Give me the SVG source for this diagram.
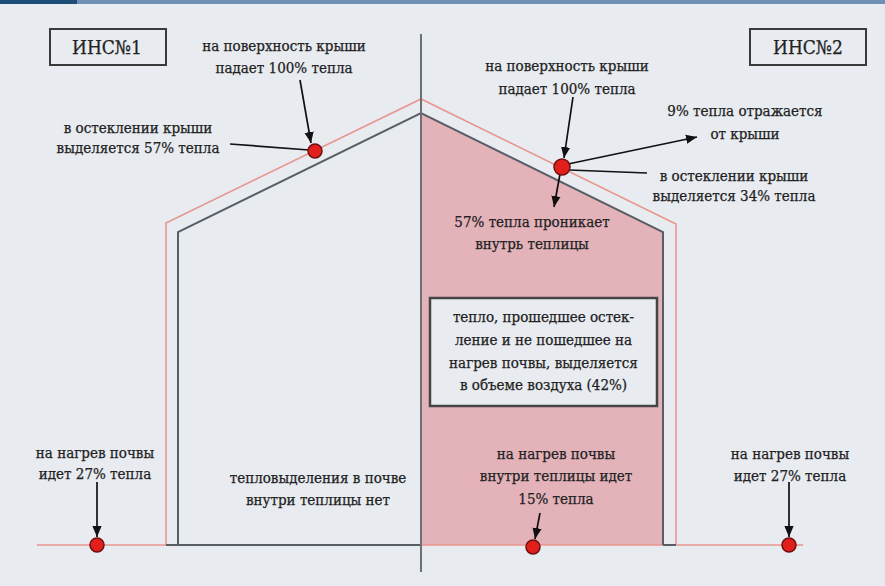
<svg xmlns="http://www.w3.org/2000/svg" width="885" height="586" viewBox="0 0 885 586">
<defs>
<marker id="ah" viewBox="0 0 10 10" refX="10" refY="5" markerWidth="11" markerHeight="11" markerUnits="userSpaceOnUse" orient="auto"><path d="M0,0.8 L10,5 L0,9.2 z" fill="#111"/></marker>
</defs>
<style>
.t{font-family:"DejaVu Serif Condensed","DejaVu Serif","Liberation Serif",serif;font-stretch:condensed;font-size:15px;fill:#222;stroke:#222;stroke-width:0.25;text-anchor:middle}
.lbl{font-size:19px}
.frame{fill:none;stroke:#3a3a3a;stroke-width:2}
.red{fill:none;stroke:#e8978d;stroke-width:1.6}
.dark{fill:none;stroke:#595d65;stroke-width:2}
.dot{fill:#e11f1b;stroke:#6e1010;stroke-width:1.5}
.c{fill:none;stroke:#111;stroke-width:1.7}
</style>
<rect x="0" y="0" width="885" height="586" fill="#e8ebf0"/>
<rect x="0" y="0" width="885" height="4" fill="#6f8fb4"/>
<rect x="0" y="0" width="77" height="4" fill="#1e4e78"/>

<g id="greenhouse">
<polygon points="421,113 663,232 663,545 421,545" fill="#e4b3ba"/>
<path class="red" d="M37,545 H166 M166,545 V223 L421,99 L676,224 V545 M421,545 H663 M676,545 H803"/>
<path class="dark" d="M166,545 H421 M663,545 H676 M178,545 V232 L421,113 L663,232 V545"/>
<path d="M421,34 V572" fill="none" stroke="#6b6f76" stroke-width="2"/>
</g>

<g id="ins1">
<rect class="frame" x="50" y="29" width="116" height="36" fill="none"/>
<text class="t lbl" x="107" y="54">ИНС№1</text>
</g>
<g id="ins2">
<rect class="frame" x="750" y="29" width="116" height="36" fill="none"/>
<text class="t lbl" x="808" y="54">ИНС№2</text>
</g>

<g id="label-left-top">
<text class="t" x="284" y="51">на поверхность крыши</text>
<text class="t" x="284" y="73">падает 100% тепла</text>
</g>
<g id="label-left-57">
<text class="t" x="138" y="133">в остеклении крыши</text>
<text class="t" x="138" y="153">выделяется 57% тепла</text>
</g>
<g id="label-right-top">
<text class="t" x="567" y="71">на поверхность крыши</text>
<text class="t" x="567" y="94">падает 100% тепла</text>
</g>
<g id="label-reflect">
<text class="t" x="745" y="116">9% тепла отражается</text>
<text class="t" x="745" y="139">от крыши</text>
</g>
<g id="label-right-34">
<text class="t" x="734" y="181">в остеклении крыши</text>
<text class="t" x="734" y="201">выделяется 34% тепла</text>
</g>
<g id="label-penetrate">
<text class="t" x="532" y="227">57% тепла проникает</text>
<text class="t" x="532" y="249">внутрь теплицы</text>
</g>
<g id="air-box">
<rect x="430" y="298" width="227" height="108" fill="#e8ebf0" stroke="#454545" stroke-width="2.5"/>
<text class="t" x="543.5" y="322">тепло, прошедшее остек-</text>
<text class="t" x="543.5" y="345">ление и не пошедшее на</text>
<text class="t" x="543.5" y="368">нагрев почвы, выделяется</text>
<text class="t" x="543.5" y="390">в объеме воздуха (42%)</text>
</g>
<g id="label-soil-left">
<text class="t" x="95" y="458">на нагрев почвы</text>
<text class="t" x="95" y="479">идет 27% тепла</text>
</g>
<g id="label-soil-none">
<text class="t" x="318" y="483">тепловыделения в почве</text>
<text class="t" x="318" y="505">внутри теплицы нет</text>
</g>
<g id="label-soil-mid">
<text class="t" x="556" y="459">на нагрев почвы</text>
<text class="t" x="556" y="481">внутри теплицы идет</text>
<text class="t" x="556" y="504">15% тепла</text>
</g>
<g id="label-soil-right">
<text class="t" x="790" y="459">на нагрев почвы</text>
<text class="t" x="790" y="481">идет 27% тепла</text>
</g>

<g id="connectors">
<line class="c" x1="300" y1="80" x2="311" y2="143" marker-end="url(#ah)"/>
<line class="c" x1="230" y1="144" x2="309" y2="150"/>
<line class="c" x1="573" y1="97" x2="564" y2="158" marker-end="url(#ah)"/>
<line class="c" x1="568" y1="164" x2="697" y2="137" marker-end="url(#ah)"/>
<line class="c" x1="569" y1="170" x2="647" y2="173"/>
<line class="c" x1="560" y1="174" x2="554" y2="207" marker-end="url(#ah)"/>
<line class="c" x1="97" y1="482" x2="97" y2="537" marker-end="url(#ah)"/>
<line class="c" x1="540" y1="513" x2="535" y2="539" marker-end="url(#ah)"/>
<line class="c" x1="789" y1="482" x2="789" y2="537" marker-end="url(#ah)"/>
</g>

<g id="dots">
<circle class="dot" cx="315" cy="151" r="7"/>
<circle class="dot" cx="562" cy="167" r="8"/>
<circle class="dot" cx="97" cy="545" r="7"/>
<circle class="dot" cx="533" cy="547" r="7"/>
<circle class="dot" cx="789" cy="545" r="7"/>
</g>
</svg>
